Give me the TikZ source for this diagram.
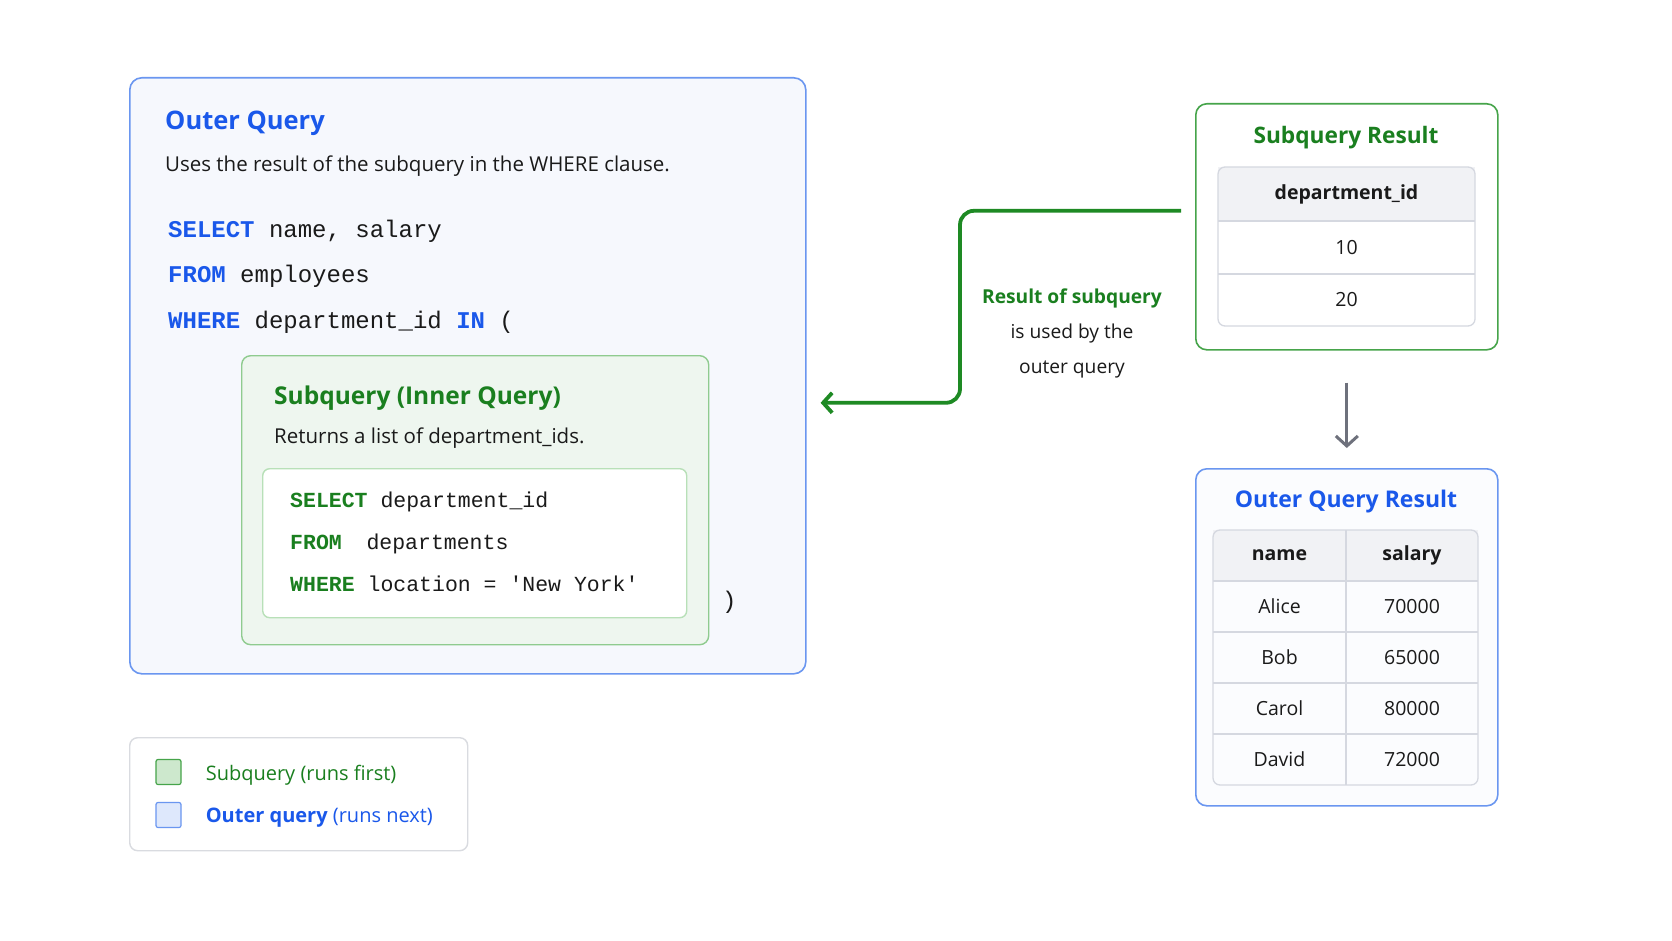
\documentclass[tikz,border=0pt]{standalone}
\usepackage{fontspec}
\setmainfont{Open Sans}
\setmonofont{Liberation Mono}
\usetikzlibrary{arrows.meta, positioning}

\definecolor{qblue}{HTML}{1A58EA}
\definecolor{qgreen}{HTML}{1A7F1F}
\definecolor{arrgreen}{HTML}{1E8A24}
\definecolor{outerline}{HTML}{6A96F0}
\definecolor{outerfill}{HTML}{F6F8FD}
\definecolor{innerline}{HTML}{8FCB8F}
\definecolor{innerfill}{HTML}{EEF6EF}
\definecolor{codeline}{HTML}{B8E0B8}
\definecolor{resline}{HTML}{46A44A}
\definecolor{gridgray}{HTML}{D5D8E0}
\definecolor{headfill}{HTML}{F1F2F5}
\definecolor{legline}{HTML}{D9DBE0}
\definecolor{arrgray}{HTML}{6E717C}
\definecolor{inktext}{HTML}{1A1A1A}

\newcommand{\kwblue}[1]{\textcolor{qblue}{\bfseries #1}}
\newcommand{\kwgreen}[1]{\textcolor{qgreen}{\bfseries #1}}

\tikzset{
    outerbox/.style = {
        rectangle,
        draw=outerline,
        fill=outerfill,
        rounded corners=12pt,
        line width=1.6pt,
        anchor=north west
    },
    innerbox/.style = {
        rectangle,
        draw=innerline,
        fill=innerfill,
        rounded corners=9pt,
        line width=1.4pt,
        anchor=north west
    },
    codebox/.style = {
        rectangle,
        draw=codeline,
        fill=white,
        rounded corners=7pt,
        line width=1.4pt,
        anchor=north west
    },
    resbox/.style = {
        rectangle,
        fill=white,
        rounded corners=11pt,
        line width=1.6pt,
        anchor=north west
    },
    legbox/.style = {
        rectangle,
        draw=legline,
        fill=white,
        rounded corners=8pt,
        line width=1.4pt,
        anchor=north west
    },
    legsq/.style = {
        rectangle,
        minimum size=25pt,
        rounded corners=2pt,
        line width=1.2pt
    },
    titletext/.style = {
        inner sep=0pt,
        anchor=west,
        font=\fontsize{25.5}{30}\selectfont\bfseries
    },
    desctext/.style = {
        inner sep=0pt,
        anchor=west,
        text=inktext,
        font=\fontsize{20.5}{24}\selectfont
    },
    outcode/.style = {
        inner sep=0pt,
        anchor=west,
        text=inktext,
        font=\fontsize{24}{28}\selectfont\ttfamily
    },
    incode/.style = {
        inner sep=0pt,
        anchor=west,
        text=inktext,
        font=\fontsize{21.5}{26}\selectfont\ttfamily
    },
    cell/.style = {
        rectangle,
        inner sep=0pt,
        outer sep=0pt,
        text=inktext,
        font=\fontsize{19.5}{24}\selectfont
    },
    headcell/.style = {
        cell,
        fill=headfill,
        font=\fontsize{19.5}{24}\selectfont\bfseries
    },
    gridline/.style = {
        draw=gridgray,
        line width=1.3pt
    },
    resarrow/.style = {
        draw=arrgreen,
        line width=3.8pt,
        rounded corners=14pt,
        -{Straight Barb[length=9pt, width=20pt, line width=3.8pt]}
    },
    flowarrow/.style = {
        draw=arrgray,
        line width=3pt,
        -{Straight Barb[length=10pt, width=22pt, line width=3pt]}
    }
}

\begin{document}
\begin{tikzpicture}[x=1pt, y=-1pt]

% fond et cadre
\fill[white] (0,0) rectangle (1672,941);
\useasboundingbox (0,0) rectangle (1672,941);

% requete externe
\node (outer) [outerbox, minimum width=676pt, minimum height=596pt] at (129,77) {};
\node (outtitle) [titletext, text=qblue] at (165,123) {Outer Query};
\node (outdesc) [desctext] at (165,166) {Uses the result of the subquery in the WHERE clause.};
\node (osel) [outcode] at (168,231) {\kwblue{SELECT} name, salary};
\node (ofrom) [outcode] at (168,276) {\kwblue{FROM} employees};
\node (owhere) [outcode] at (168,322) {\kwblue{WHERE} department\_id \kwblue{IN} (};

% sous-requete
\node (inner) [innerbox, minimum width=467pt, minimum height=289pt] at (241,355) {};
\node (intitle) [titletext, text=qgreen, font=\fontsize{24.5}{29}\selectfont\bfseries] at (274,398) {Subquery (Inner Query)};
\node (indesc) [desctext] at (274,438) {Returns a list of department\_ids.};
\node (incodebox) [codebox, minimum width=424pt, minimum height=149pt] at (262,468) {};
\node (isel) [incode] at (290,502) {\kwgreen{SELECT} department\_id};
\node (ifrom) [incode] at (290,544) {\kwgreen{FROM}\hspace{0.55em} departments};
\node (iwhere) [incode] at (290,584) {\kwgreen{WHERE} location = 'New York'};
\node (closeparen) [outcode] at (722,602) {)};

% resultat de la sous-requete
\node (sqres) [resbox, draw=resline, minimum width=302pt, minimum height=246pt] at (1195,103) {};
\node (sqtitle) [titletext, anchor=center, text=qgreen, font=\fontsize{22.7}{26}\selectfont\bfseries] at (1346,138) {Subquery Result};
\node (deptHead) [headcell, anchor=north west, minimum width=257pt, minimum height=54pt] at (1218,167) {department\_id};
\node (deptA) [cell, below=0pt of deptHead, minimum width=257pt, minimum height=53pt] {10};
\node (deptB) [cell, below=0pt of deptA, minimum width=257pt, minimum height=52pt] {20};
\draw [gridline] (deptHead.south west) -- (deptHead.south east);
\draw [gridline] (deptA.south west) -- (deptA.south east);
\draw [gridline, rounded corners=7pt] (deptHead.north west) rectangle (deptB.south east);

% resultat final
\node (oqres) [resbox, draw=outerline, fill=outerfill!40, minimum width=302pt, minimum height=337pt] at (1195,468) {};
\node (oqtitle) [titletext, anchor=center, text=qblue, font=\fontsize{23}{26}\selectfont\bfseries] at (1346,502) {Outer Query Result};
\node (nameHead) [headcell, anchor=north west, minimum width=133pt, minimum height=51pt] at (1213,530) {name};
\node (salHead) [headcell, right=0pt of nameHead, minimum width=132pt, minimum height=51pt] {salary};
\node (nameA) [cell, below=0pt of nameHead, minimum width=133pt, minimum height=51pt] {Alice};
\node (salA) [cell, below=0pt of salHead, minimum width=132pt, minimum height=51pt] {70000};
\node (nameB) [cell, below=0pt of nameA, minimum width=133pt, minimum height=51pt] {Bob};
\node (salB) [cell, below=0pt of salA, minimum width=132pt, minimum height=51pt] {65000};
\node (nameC) [cell, below=0pt of nameB, minimum width=133pt, minimum height=51pt] {Carol};
\node (salC) [cell, below=0pt of salB, minimum width=132pt, minimum height=51pt] {80000};
\node (nameD) [cell, below=0pt of nameC, minimum width=133pt, minimum height=51pt] {David};
\node (salD) [cell, below=0pt of salC, minimum width=132pt, minimum height=51pt] {72000};
\draw [gridline] (nameHead.south west) -- (salHead.south east);
\draw [gridline] (nameA.south west) -- (salA.south east);
\draw [gridline] (nameB.south west) -- (salB.south east);
\draw [gridline] (nameC.south west) -- (salC.south east);
\draw [gridline] (nameHead.north east) -- (nameD.south east);
\draw [gridline, rounded corners=7pt] (nameHead.north west) rectangle (salD.south east);

% fleches
\coordinate (bend) at (960,300);
\draw [resarrow, shorten <=14pt, shorten >=14pt] ([yshift=16pt]sqres.west) -| (bend) |- ([yshift=-27pt]outer.east);
\draw [flowarrow, shorten <=32pt, shorten >=20pt] (sqres.south) -- (oqres.north);
\node (usedlabel) [align=center, text=inktext, font=\fontsize{19.2}{35}\selectfont] at (1072,333)
    {\textcolor{qgreen}{\bfseries Result of subquery}\\is used by the\\outer query};

% legende
\node (legend) [legbox, minimum width=338pt, minimum height=113pt] at (129,737) {};
\node (legsub) [legsq, draw=resline, fill=innerline!45] at (168.5,772) {};
\node (legout) [legsq, draw=outerline, fill=outerline!22] at (168.5,815) {};
\node (legsubtxt) [desctext, text=qgreen, font=\fontsize{20}{23}\selectfont, right=24pt of legsub, yshift=-3pt] {Subquery (runs first)};
\node (legouttxt) [desctext, text=qblue, font=\fontsize{20}{23}\selectfont, right=24pt of legout, yshift=-3pt] {\textbf{Outer query} (runs next)};

\end{tikzpicture}
\end{document}
